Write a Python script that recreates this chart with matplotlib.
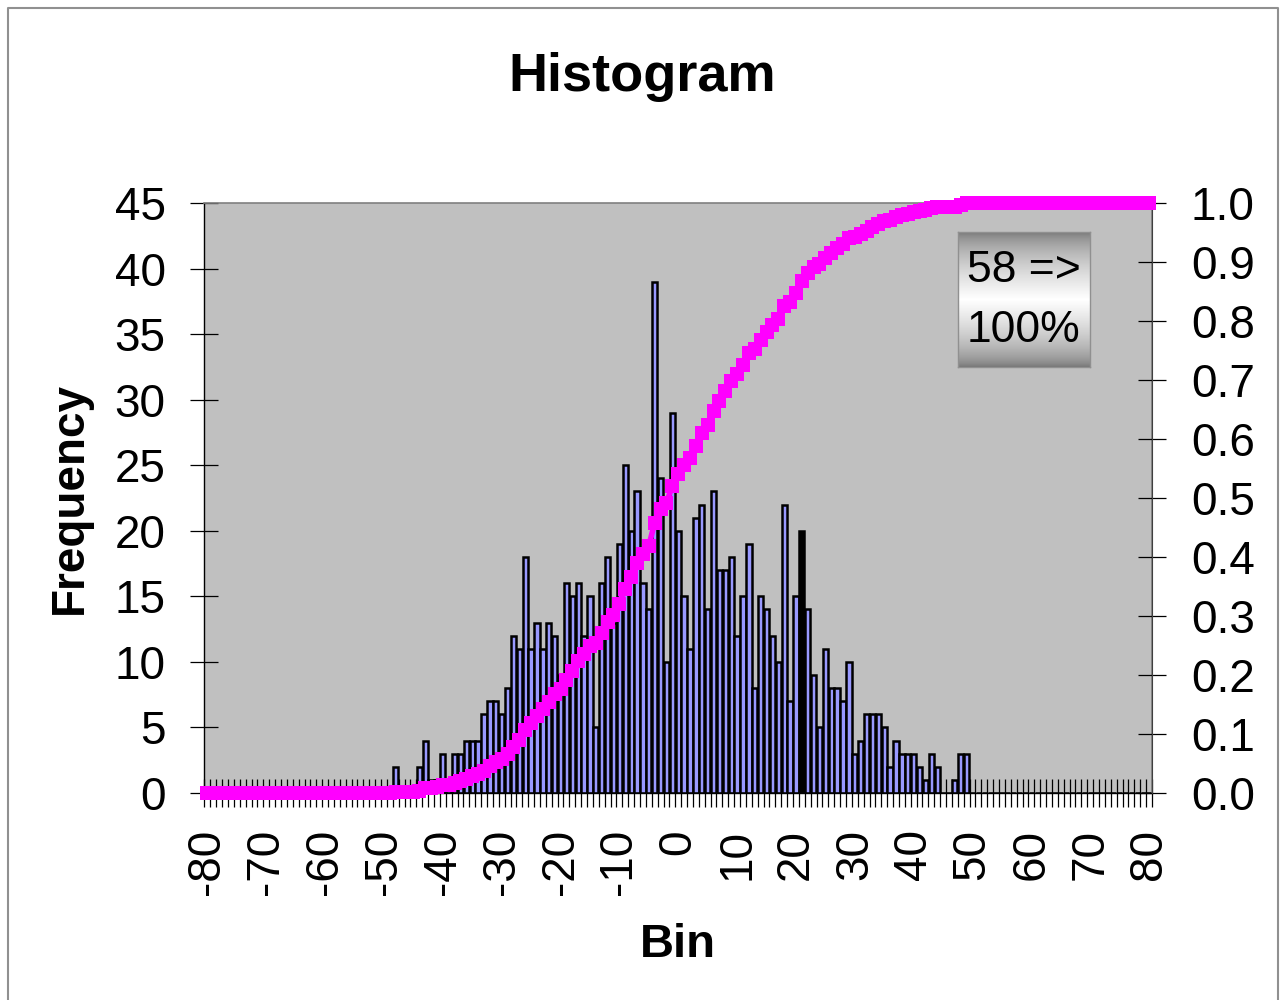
import numpy as np
import matplotlib
matplotlib.use("Agg")
import matplotlib.pyplot as plt
from matplotlib.lines import Line2D

plt.rcParams['font.family'] = ['Liberation Sans', 'DejaVu Sans']

# bins -80 .. 80, step 1
bins = list(range(-80, 81))

# non-zero part of the histogram, starting at bin -48 and ending at bin 49
first_bin = -48
counts_mid = [2, 0, 0, 0, 2, 4, 1, 1, 3, 1,
              3, 3, 4, 4, 4, 6, 7, 7, 6, 8,
              12, 11, 18, 11, 13, 11, 13, 12, 9, 16,
              15, 16, 12, 15, 5, 16, 18, 13, 19, 25,
              20, 23, 16, 14, 39, 24, 10, 29, 20, 15,
              11, 21, 22, 14, 23, 17, 17, 18, 12, 15,
              19, 8, 15, 14, 12, 10, 22, 7, 15, 20,
              14, 9, 5, 11, 8, 8, 7, 10, 3, 4,
              6, 6, 6, 5, 2, 4, 3, 3, 3, 2,
              1, 3, 2, 0, 0, 1, 3, 3]

x_ticks = list(range(-80, 81, 10))
x_ticklabels = [str(v) for v in x_ticks]
y_ticks = list(range(0, 46, 5))
y2_ticks = [i / 10 for i in range(11)]
title = "Histogram"
box_text = "58 =>\n100%"

# full frequency array
freq = np.zeros(len(bins))
start = bins.index(first_bin)
freq[start:start + len(counts_mid)] = counts_mid
cumulative = np.cumsum(freq) / freq.sum()

fig = plt.figure(figsize=(12.86, 10), dpi=100)
ax = fig.add_axes([0.1590, 0.207, 0.7368, 0.590])
ax.set_facecolor('#C0C0C0')

colors = ['#9999FF'] * len(bins)
colors[bins.index(21)] = 'black'  # this one shows up solid in the original
ax.bar(bins, freq, width=0.9, color=colors, edgecolor='black', linewidth=1.8, zorder=2)

ax.set_xlim(-80.5, 80.5)
ax.set_ylim(0, 45)
ax.set_yticks(y_ticks)
ax.set_xticks(x_ticks)
ax.set_xticklabels(x_ticklabels, rotation=90)
ax.set_xticks(np.arange(-80.5, 81, 1.0), minor=True)
ax.tick_params(axis='x', which='major', length=0, pad=26, labelsize=33)
ax.tick_params(axis='x', which='minor', direction='inout', length=20, width=0.9, color='black')
ax.tick_params(axis='y', which='major', direction='inout', length=20, width=0.9, labelsize=33, pad=18)

for side in ['top', 'right']:
    ax.spines[side].set_color('#808080')
    ax.spines[side].set_linewidth(1.2)
ax.spines['left'].set_color('black')
ax.spines['bottom'].set_color('black')
ax.spines['left'].set_linewidth(1.0)
ax.spines['bottom'].set_linewidth(1.0)

ax2 = ax.twinx()
ax2.plot(bins, cumulative, color='#FF00FF', linewidth=4, marker='s', markersize=9.5,
         markeredgewidth=0, clip_on=False, zorder=5)
ax2.set_ylim(0, 1.0)
ax2.set_yticks(y2_ticks)
ax2.set_yticklabels([f"{v:.1f}" for v in y2_ticks])
ax2.tick_params(axis='y', which='major', direction='inout', length=20, width=0.9, labelsize=33, pad=18)
ax2.spines['right'].set_color('#404040')
for side in ['top', 'left', 'bottom']:
    ax2.spines[side].set_visible(False)

# gradient box with the note: grey at top and bottom, white in the middle
box_ax = fig.add_axes([958 / 1286, 1 - 367 / 1000, 132 / 1286, 135 / 1000])
t = np.linspace(0, 1, 256)
grad = np.clip(0.45 + 0.55 * (1 - np.abs(t - 0.5) * 2) ** 0.6, 0, 1)
box_ax.imshow(grad[:, None], cmap='gray', vmin=0, vmax=1, aspect='auto', extent=[0, 1, 0, 1])
box_ax.set_xticks([])
box_ax.set_yticks([])
for s in box_ax.spines.values():
    s.set_color('#909090')
    s.set_linewidth(1)
box_ax.text(0.5, 0.49, box_text, ha='center', va='center', fontsize=32, linespacing=1.6,
            transform=box_ax.transAxes)

fig.text(0.499, 1 - 77 / 1000, title, ha='center', va='center', fontsize=39, fontweight='bold')
fig.text(70 / 1286, 0.502, "Frequency", ha='center', va='center', rotation=90,
         fontsize=33, fontweight='bold')
fig.text(678 / 1286, 1 - 945 / 1000, "Bin", ha='center', va='center', fontsize=34, fontweight='bold')

# outer chart border
fig.add_artist(Line2D([8 / 1286, 8 / 1286, 1278 / 1286, 1278 / 1286],
                      [-0.01, 1 - 8 / 1000, 1 - 8 / 1000, -0.01],
                      transform=fig.transFigure, color='#909090', linewidth=1.5))

fig.savefig('out.png', dpi=100)
